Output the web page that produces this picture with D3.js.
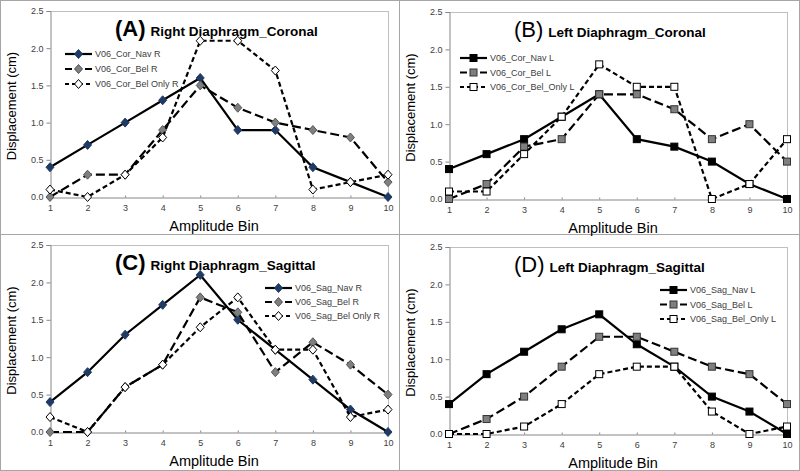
<!DOCTYPE html>
<html><head><meta charset="utf-8">
<script src="https://cdn.jsdelivr.net/npm/d3@7"></script>
<style>body{margin:0;background:#fff}svg{display:block;font-family:"Liberation Sans",Arial,sans-serif}</style>
</head><body><svg id="c" width="800" height="471"></svg>
<script>
const bins = [1,2,3,4,5,6,7,8,9,10];
const yTicks = [0.0,0.5,1.0,1.5,2.0,2.5];

const aNavR     = [0.4,0.7,1.0,1.3,1.6,0.9,0.9,0.4,0.2,0.0];
const aBelR     = [0.0,0.3,0.3,0.9,1.5,1.2,1.0,0.9,0.8,0.2];
const aBelOnlyR = [0.1,0.0,0.3,0.8,2.1,2.1,1.7,0.1,0.2,0.3];

const bNavL     = [0.4,0.6,0.8,1.1,1.4,0.8,0.7,0.5,0.2,0.0];
const bBelL     = [0.0,0.2,0.7,0.8,1.4,1.4,1.2,0.8,1.0,0.5];
const bBelOnlyL = [0.1,0.1,0.6,1.1,1.8,1.5,1.5,0.0,0.2,0.8];

const cNavR     = [0.4,0.8,1.3,1.7,2.1,1.5,1.1,0.7,0.3,0.0];
const cBelR     = [0.0,0.0,0.6,0.9,1.8,1.6,0.8,1.2,0.9,0.5];
const cBelOnlyR = [0.2,0.0,0.6,0.9,1.4,1.8,1.1,1.1,0.2,0.3];

const dNavL     = [0.4,0.8,1.1,1.4,1.6,1.2,0.9,0.5,0.3,0.0];
const dBelL     = [0.0,0.2,0.5,0.9,1.3,1.3,1.1,0.9,0.8,0.4];
const dBelOnlyL = [0.0,0.0,0.1,0.4,0.8,0.9,0.9,0.3,0.0,0.1];

const panelLetters = ["(A)","(B)","(C)","(D)"];
const panelTitles = ["Right Diaphragm_Coronal","Left Diaphragm_Coronal","Right Diaphragm_Sagittal","Left Diaphragm_Sagittal"];
const seriesNames = [
  ["V06_Cor_Nav R","V06_Cor_Bel R","V06_Cor_Bel Only R"],
  ["V06_Cor_Nav L","V06_Cor_Bel L","V06_Cor_Bel_Only L"],
  ["V06_Sag_Nav R","V06_Sag_Bel R","V06_Sag_Bel Only R"],
  ["V06_Sag_Nav L","V06_Sag_Bel L","V06_Sag_Bel_Only L"]
];
const seriesValues = [
  [aNavR,aBelR,aBelOnlyR],
  [bNavL,bBelL,bBelOnlyL],
  [cNavR,cBelR,cBelOnlyR],
  [dNavL,dBelL,dBelOnlyL]
];

// layout (positions / styles)
const layout = [
  {l:50, r:388, t:11, b:197, letterBold:true, lx:65,  ly:54, ldy:15},
  {l:449,r:787, t:12, b:199, letterBold:false,lx:460, ly:58, ldy:14.5},
  {l:50, r:388, t:245,b:432, letterBold:true, lx:265, ly:288,ldy:14},
  {l:449,r:787, t:247,b:434, letterBold:false,lx:660, ly:290,ldy:14.5}
];
const shapes = ["diamond","square","diamond","square"];
const styles = [
  {dash:null, fill:["#1f3a64","#000"]},
  {dash:"9,4", fill:["#7f7f7f","#7f7f7f"]},
  {dash:"5,3", fill:["#fff","#fff"]}
];
const strokes = [["#1f3a64","#000"],["#555","#333"],["#000","#000"]];

const svg = d3.select("#c");
// panel borders
svg.append("rect").attr("x",0.5).attr("y",0.5).attr("width",799).attr("height",470)
  .attr("fill","none").attr("stroke","#a6a6a6");
svg.append("line").attr("x1",399.5).attr("x2",399.5).attr("y1",0).attr("y2",471).attr("stroke","#a6a6a6");
svg.append("line").attr("x1",0).attr("x2",800).attr("y1",234.5).attr("y2",234.5).attr("stroke","#a6a6a6");

function marker(g, shape, cx, cy, fill, stroke){
  if(shape==="diamond"){
    g.append("path").attr("d",`M${cx},${cy-4.5}L${cx+4},${cy}L${cx},${cy+4.5}L${cx-4},${cy}Z`)
      .attr("fill",fill).attr("stroke",stroke).attr("stroke-width",1);
  } else {
    g.append("rect").attr("x",cx-3.5).attr("y",cy-3.5).attr("width",7).attr("height",7)
      .attr("fill",fill).attr("stroke",stroke).attr("stroke-width",1);
  }
}

layout.forEach((L,pi)=>{
  const g = svg.append("g");
  const shape = shapes[pi];
  const si = pi%2; // 0 = diamond/right, 1 = square/left
  const x = d3.scaleLinear().domain([1,10]).range([L.l,L.r]);
  const y = d3.scaleLinear().domain([0,2.5]).range([L.b,L.t]);

  // frame top/right
  g.append("line").attr("x1",L.l).attr("x2",L.r+0.5).attr("y1",L.t+0.5).attr("y2",L.t+0.5).attr("stroke","#bfbfbf");
  g.append("line").attr("x1",L.r+0.5).attr("x2",L.r+0.5).attr("y1",L.t).attr("y2",L.b).attr("stroke","#bfbfbf");

  const ya = g.append("g").attr("transform",`translate(${L.l+0.5},0)`)
    .call(d3.axisLeft(y).tickValues(yTicks).tickFormat(d3.format(".1f")).tickSize(4).tickPadding(3));
  const xa = g.append("g").attr("transform",`translate(0,${L.b+0.5})`)
    .call(d3.axisBottom(x).tickValues(bins).tickFormat(d3.format("d")).tickSizeInner(-2).tickSizeOuter(0).tickPadding(7));
  [ya,xa].forEach(a=>{
    a.selectAll("path,line").attr("stroke","#868686");
    a.selectAll("text").attr("fill","#404040").style("font-size","9px");
  });

  // axis titles
  g.append("text").attr("transform",`translate(${L.l-34},${(L.t+L.b)/2+2}) rotate(-90)`)
    .attr("text-anchor","middle").style("font-size","13px").attr("fill","#000").text("Displacement (cm)");
  g.append("text").attr("x",(L.l+L.r)/2-5).attr("y",L.b+34).attr("text-anchor","middle")
    .style("font-size","14.5px").attr("fill","#000").text("Amplitude Bin");

  // title
  const t = g.append("text").attr("x",L.l+65).attr("y",L.t+25).attr("fill","#000");
  t.append("tspan").style("font-size","22px").style("font-weight",L.letterBold?"bold":"normal").text(panelLetters[pi]);
  t.append("tspan").attr("dx",5).style("font-size","13.5px").style("font-weight","bold").text(panelTitles[pi]);

  // series
  seriesValues[pi].forEach((vals,k)=>{
    const st = styles[k];
    const line = d3.line().x((d,i)=>x(bins[i])).y(d=>y(d));
    g.append("path").datum(vals).attr("d",line).attr("fill","none").attr("stroke","#000")
      .attr("stroke-width",2.2).attr("stroke-dasharray",st.dash);
    vals.forEach((v,i)=>marker(g,shape,x(bins[i]),y(v),st.fill[si],strokes[k][si]));
    // legend
    const ly = L.ly + k*L.ldy;
    g.append("line").attr("x1",L.lx).attr("x2",L.lx+27).attr("y1",ly).attr("y2",ly)
      .attr("stroke","#000").attr("stroke-width",2.2).attr("stroke-dasharray",st.dash? (k===1?"7,3":"4,3"):null);
    marker(g,shape,L.lx+13.5,ly,st.fill[si],strokes[k][si]);
    g.append("text").attr("x",L.lx+30).attr("y",ly+3).style("font-size","9px").attr("fill","#404040").text(seriesNames[pi][k]);
  });
});
</script></body></html>
